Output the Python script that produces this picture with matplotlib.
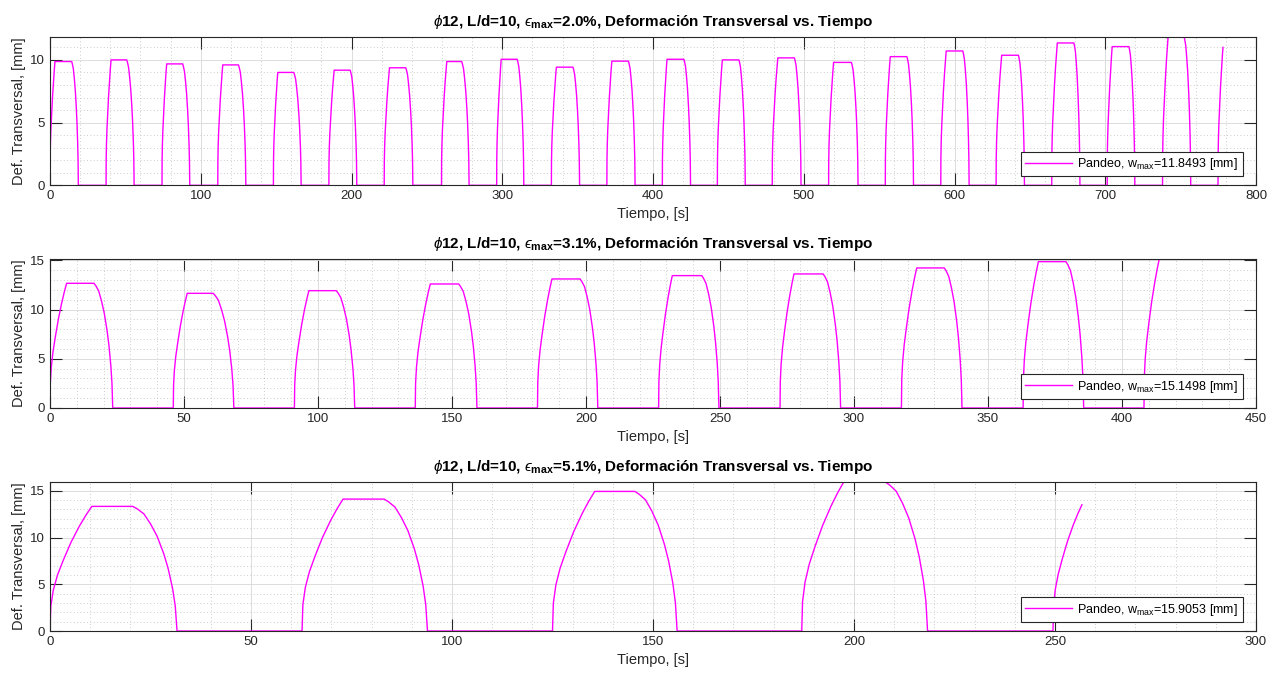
import matplotlib
matplotlib.use("Agg")
import matplotlib.pyplot as plt
import numpy as np
from matplotlib.ticker import MultipleLocator

plt.rcParams["font.family"] = ["Liberation Sans", "DejaVu Sans"]
plt.rcParams["mathtext.fontset"] = "custom"
plt.rcParams["mathtext.rm"] = "Liberation Sans"
plt.rcParams["mathtext.it"] = "Liberation Sans:italic"
plt.rcParams["mathtext.bf"] = "Liberation Sans:bold"
plt.rcParams["mathtext.fallback"] = "cm"

# normalised shape of one rise / one fall
RISE_T = np.array([0.0, 0.02, 0.08, 0.18, 0.32, 0.50, 0.70, 0.86, 1.0])
RISE_W = np.array([0.0, 0.20, 0.33, 0.45, 0.57, 0.71, 0.84, 0.93, 1.0])
FALL_T = np.array([0.0, 0.10, 0.25, 0.40, 0.55, 0.70, 0.80, 0.90, 0.96, 1.0])
FALL_W = np.array([1.0, 0.98, 0.94, 0.86, 0.76, 0.62, 0.50, 0.34, 0.20, 0.0])

# eps = 2.0 %
E2_START = [0, 37.2, 74.3, 111.3, 148.2, 185.0, 221.7, 259.7, 296.3, 332.6, 369.4,
            406.2, 442.7, 479.1, 516.5, 554.1, 590.9, 627.6, 664.5, 701.3, 738.0]
E2_PEAK_T = [3.3, 40.5, 77.4, 114.6, 151.1, 188.5, 225.2, 263.2, 299.3, 335.9, 372.7,
             409.3, 446.0, 482.8, 519.8, 557.4, 594.5, 631.3, 668.2, 704.6, 741.7]
E2_HOLD_END = [14.4, 50.9, 88.0, 125.0, 161.7, 199.1, 236.0, 273.1, 309.9, 346.9, 383.7,
               420.5, 457.0, 493.8, 531.6, 568.4, 605.5, 642.4, 679.2, 715.7, 752.3]
E2_ZERO_T = [18.8, 55.8, 92.7, 129.9, 166.6, 203.5, 240.7, 278.0, 314.3, 351.3, 388.1,
             424.9, 461.2, 498.2, 536.0, 572.8, 609.7, 646.4, 683.2, 719.6, 756.7]
E2_PEAK_W = [9.87, 10.0, 9.68, 9.6, 9.0, 9.18, 9.37, 9.87, 10.05, 9.42, 9.9,
             10.05, 10.0, 10.16, 9.8, 10.26, 10.71, 10.37, 11.35, 11.06, 11.8493]
E2_LAST = (774.8, 778.1, 11.0)

# eps = 3.1 %
E3_START = [0, 46.0, 91.2, 136.3, 181.9, 227.1, 272.4, 317.7, 363.1]
E3_PEAK_T = [6.2, 51.2, 96.6, 141.9, 187.3, 232.2, 277.6, 323.4, 368.8]
E3_HOLD_END = [16.4, 60.9, 106.8, 152.5, 197.8, 243.2, 288.5, 333.7, 379.1]
E3_ZERO_T = [23.4, 68.6, 113.7, 159.3, 204.4, 249.6, 295.0, 340.3, 385.7]
E3_PEAK_W = [12.68, 11.66, 11.93, 12.61, 13.12, 13.46, 13.63, 14.24, 14.88]
E3_LAST = (408.2, 413.9, 15.1498)

# eps = 5.1 %
E5_START = [0, 62.7, 125.0, 187.0]
E5_PEAK_T = [10.4, 72.9, 135.5, 197.4]
E5_HOLD_END = [20.6, 83.1, 145.5, 207.9]
E5_ZERO_T = [31.6, 93.9, 156.0, 218.3]
E5_PEAK_W = [13.33, 14.11, 14.93, 15.9053]
E5_LAST = (249.5, 256.7, 13.5)

PANELS = [
    ("2.0", 11.8493, 800, 100, 20, (E2_START, E2_PEAK_T, E2_HOLD_END, E2_ZERO_T, E2_PEAK_W, E2_LAST)),
    ("3.1", 15.1498, 450, 50, 10, (E3_START, E3_PEAK_T, E3_HOLD_END, E3_ZERO_T, E3_PEAK_W, E3_LAST)),
    ("5.1", 15.9053, 300, 50, 10, (E5_START, E5_PEAK_T, E5_HOLD_END, E5_ZERO_T, E5_PEAK_W, E5_LAST)),
]


def build_curve(starts, peak_t, hold_end, zero_t, peaks, last):
    t, w = [], []
    for i in range(len(starts)):
        t.extend(starts[i] + RISE_T * (peak_t[i] - starts[i]))
        w.extend(RISE_W * peaks[i])
        t.extend(hold_end[i] + FALL_T * (zero_t[i] - hold_end[i]))
        w.extend(FALL_W * peaks[i])
    t0, t1, w1 = last
    t.extend(t0 + RISE_T * (t1 - t0))
    w.extend(RISE_W * w1)
    return t, w


fig = plt.figure(figsize=(12.77, 6.75), dpi=100)
tops = [36.7, 259.0, 482.3]
bottoms = [185.3, 408.0, 631.0]
H = 675.0
dark = "#262626"

for (eps, wmax, xmax, xmaj, xmin_step, data), top, bot in zip(PANELS, tops, bottoms):
    ax = fig.add_axes([50 / 1277, 1 - bot / H, 1206 / 1277, (bot - top) / H])
    t, w = build_curve(*data)
    ax.plot(t, w, color="#FF00FF", lw=1.0,
            label=r"Pandeo, w$_{\mathrm{max}}$=%.4f [mm]" % wmax)
    ax.set_xlim(0, xmax)
    ax.set_ylim(0, wmax)
    ax.xaxis.set_major_locator(MultipleLocator(xmaj))
    ax.xaxis.set_minor_locator(MultipleLocator(xmin_step))
    ax.yaxis.set_major_locator(MultipleLocator(5))
    ax.yaxis.set_minor_locator(MultipleLocator(1))
    ax.grid(True, which="major", color="#dcdcdc", lw=0.7, ls="-")
    ax.grid(True, which="minor", color="#bcbcbc", lw=0.6, ls=(0, (1, 3)))
    ax.set_axisbelow(True)
    ax.tick_params(which="major", direction="in", length=8.5, width=0.8,
                   top=True, right=True, colors=dark, labelsize=9.5, labelcolor=dark)
    ax.tick_params(which="minor", length=0, top=True, right=True)
    for sp in ax.spines.values():
        sp.set_color(dark)
        sp.set_linewidth(0.8)
    ax.set_xlabel("Tiempo, [s]", fontsize=10.5, color=dark, labelpad=3.5)
    ax.set_ylabel("Def. Transversal, [mm]", fontsize=10.5, color=dark, labelpad=3)
    ax.set_title("$\\phi$12, L/d=10, $\u03f5_{\\mathbf{max}}$=" + eps + "%, Deformación Transversal vs. Tiempo",
                 fontsize=11, fontweight="bold", color="black", pad=8)
    leg = ax.legend(loc="lower right", bbox_to_anchor=(0.989, 0.06), borderaxespad=0,
                    fontsize=9, fancybox=False, framealpha=1, edgecolor=dark,
                    handlelength=3.8, handletextpad=0.4, borderpad=0.35)
    leg.get_frame().set_linewidth(0.8)

fig.savefig("out.png", dpi=100)
